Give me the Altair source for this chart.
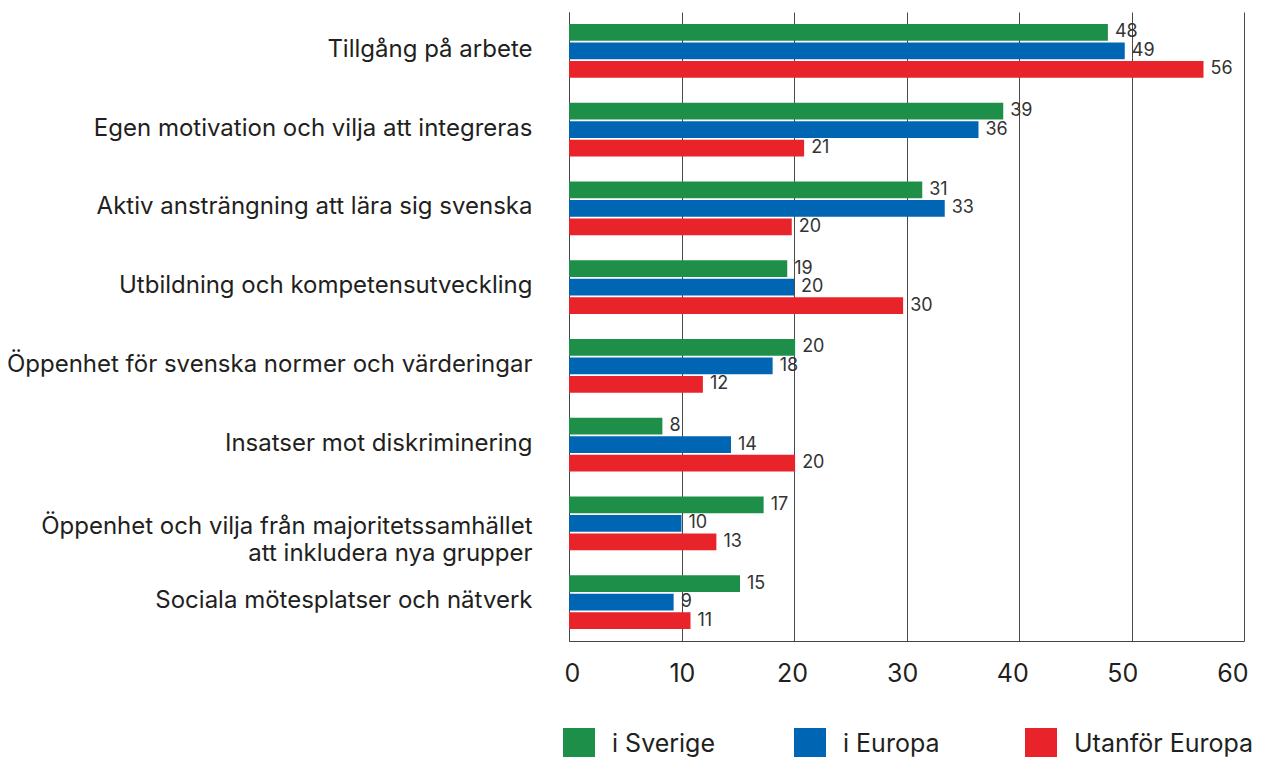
import altair as alt
import pandas as pd

categories = [
    "Tillgång på arbete",
    "Egen motivation och vilja att integreras",
    "Aktiv ansträngning att lära sig svenska",
    "Utbildning och kompetensutveckling",
    "Öppenhet för svenska normer och värderingar",
    "Insatser mot diskriminering",
    "Öppenhet och vilja från majoritetssamhället\natt inkludera nya grupper",
    "Sociala mötesplatser och nätverk",
]
series = ["i Sverige", "i Europa", "Utanför Europa"]
colors = ["#1e8f48", "#0066b3", "#e8232a"]

i_sverige = [47.9, 38.6, 31.4, 19.4, 20.1, 8.3, 17.3, 15.2]
i_europa = [49.4, 36.4, 33.4, 20.0, 18.1, 14.4, 10.0, 9.3]
utanfor_europa = [56.4, 20.9, 19.8, 29.7, 11.9, 20.1, 13.1, 10.8]

x_ticks = [0, 10, 20, 30, 40, 50, 60]

rows = []
for s, vals in zip(series, [i_sverige, i_europa, utanfor_europa]):
    for c, v in zip(categories, vals):
        rows.append({"kategori": c, "grupp": s, "andel": v})
df = pd.DataFrame(rows)

FONT = "Inter"
TXT = "#231f20"

y_enc = alt.Y(
    "kategori:N",
    sort=categories,
    scale=alt.Scale(paddingInner=0.318, paddingOuter=0.152),
    axis=alt.Axis(
        title=None,
        ticks=False,
        tickSize=0,
        domain=True,
        domainColor="#444444",
        labelFont=FONT,
        labelFontSize=24,
        labelColor=TXT,
        labelPadding=37,
        labelLimit=700,
        labelLineHeight=27,
        labelExpr="split(datum.label, '\\n')",
        labelOffset={"expr": "length(split(datum.value, '\\n')) > 1 ? 4 : -1"},
    ),
)
yoff_enc = alt.YOffset("grupp:N", sort=series, scale=alt.Scale(paddingInner=0.1))
x_enc = alt.X(
    "andel:Q",
    scale=alt.Scale(domain=[0, 60], nice=False),
    axis=alt.Axis(
        title=None,
        values=x_ticks,
        ticks=False,
        tickSize=0,
        grid=True,
        gridColor="#4a4a4a",
        gridWidth=1,
        domain=True,
        domainColor="#444444",
        labelFont=FONT,
        labelFontSize=25,
        labelColor=TXT,
        labelPadding=20,
        labelFlush=False,
        labelOffset={"expr": "2.8 - 0.24*datum.value"},
    ),
)
color_enc = alt.Color(
    "grupp:N",
    sort=series,
    scale=alt.Scale(domain=series, range=colors),
    legend=alt.Legend(
        title=None,
        orient="none",
        legendX=-6,
        legendY=716,
        direction="horizontal",
        columns=3,
        symbolType="square",
        symbolSize=1024,
        symbolStrokeWidth=0,
        symbolOpacity=1,
        labelFont=FONT,
        labelFontSize=25,
        labelColor=TXT,
        labelOffset=17,
        labelLimit=400,
        gridAlign="all",
        columnPadding=2,
        padding=0,
    ),
)

bars = alt.Chart(df).mark_bar(opacity=1).encode(
    y=y_enc, yOffset=yoff_enc, x=x_enc, color=color_enc
)
labels = alt.Chart(df).mark_text(
    align="left", baseline="middle", dx=7, font=FONT, fontSize=18, color="#333333"
).encode(
    y=alt.Y("kategori:N", sort=categories),
    yOffset=alt.YOffset("grupp:N", sort=series),
    x=alt.X("andel:Q"),
    text=alt.Text("andel:Q", format=".0f"),
)

chart = (
    alt.layer(bars, labels)
    .properties(
        width=675,
        height=629,
        autosize=alt.AutoSizeParams(type="none"),
        padding={"left": 561, "top": 4, "right": 12, "bottom": 120},
        background="white",
    )
    .configure_view(stroke=None)
)

chart.save("out.html", embed_options={"renderer": "svg", "actions": False})
